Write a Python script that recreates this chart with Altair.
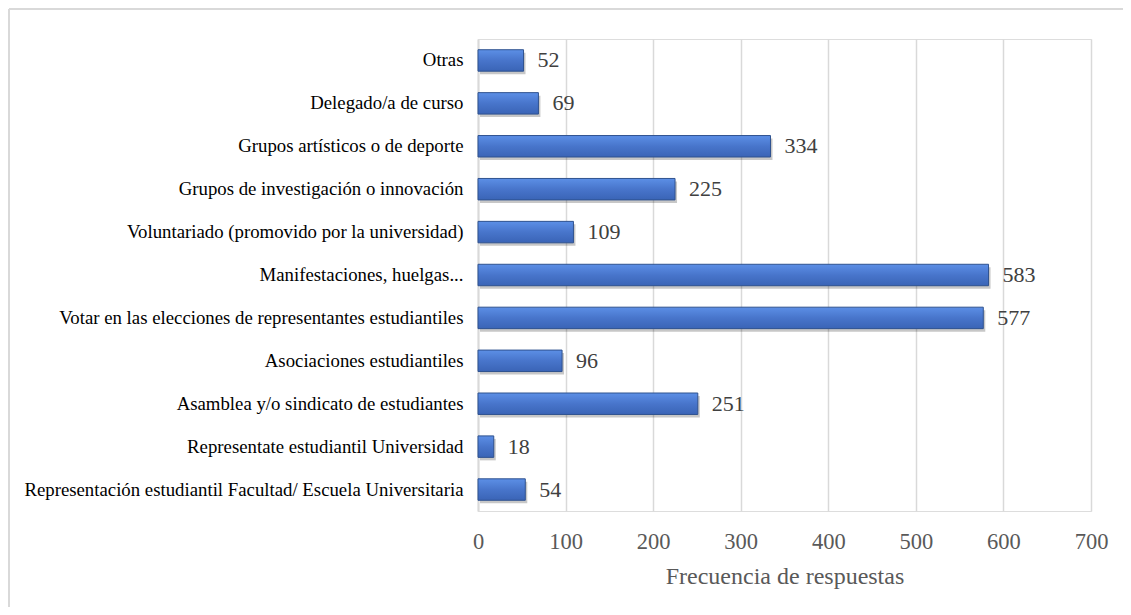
import altair as alt
import pandas as pd

categories = [
    "Otras ",
    "Delegado/a de curso",
    "Grupos artísticos o de deporte",
    "Grupos de investigación o innovación",
    "Voluntariado (promovido por la universidad)",
    "Manifestaciones, huelgas...",
    "Votar en las elecciones de representantes estudiantiles",
    "Asociaciones estudiantiles",
    "Asamblea y/o sindicato de estudiantes",
    "Representate estudiantil  Universidad",
    "Representación estudiantil Facultad/ Escuela Universitaria",
]
values = [52, 69, 334, 225, 109, 583, 577, 96, 251, 18, 54]
x_ticks = [0, 100, 200, 300, 400, 500, 600, 700]

df = pd.DataFrame({"cat": categories, "val": values})

FONT = "Liberation Serif"
W, H = 613, 472
PL, PT = 470, 31
PR = 1115 - PL - W
PB = 599 - PT - H

y_enc = alt.Y("cat:N", sort=categories, title=None,
              scale=alt.Scale(paddingInner=0.5, paddingOuter=0.25),
              axis=alt.Axis(labelFont=FONT, labelFontSize=18.8, labelColor="#000000",
                            labelPadding=15, ticks=False, domain=True,
                            domainColor="#D9D9D9", domainWidth=2, labelLimit=600))
x_enc = alt.X("val:Q", title="Frecuencia de respuestas",
              scale=alt.Scale(domain=[0, 700], nice=False),
              axis=alt.Axis(values=x_ticks, grid=True, gridColor="#D9D9D9", gridWidth=1.5,
                            domain=False, ticks=False, labelFont=FONT, labelFontSize=22.5,
                            labelColor="#595959", labelPadding=19, labelFlush=False,
                            labelOverlap=False, titleFont=FONT,
                            titleFontSize=24, titleFontWeight="normal", titleColor="#595959",
                            titlePadding=12))

base = alt.Chart(df)

shadow = base.mark_bar(color="#000000", opacity=0.22, xOffset=2, x2Offset=2,
                       yOffset=3, y2Offset=3).encode(y=y_enc, x=x_enc)

grad = alt.Gradient(
    gradient="linear", x1=0, y1=0, x2=0, y2=1,
    stops=[alt.GradientStop(offset=0, color="#5C8FE6"),
           alt.GradientStop(offset=0.5, color="#4875CB"),
           alt.GradientStop(offset=1, color="#3A64B6")])

bars = base.mark_bar(color=grad, stroke="#2F528F", strokeWidth=1).encode(y=y_enc, x=x_enc)

labels = base.mark_text(align="left", baseline="middle", dx=14, font=FONT,
                        fontSize=22, color="#404040").encode(
    y=y_enc, x=x_enc, text=alt.Text("val:Q"))

frame_df = pd.DataFrame({"k": [0]})
frame_left = alt.Chart(frame_df).mark_rule(color="#D9D9D9", strokeWidth=2).encode(
    x=alt.value(-PL + 1), y=alt.value(-PT + 1), y2=alt.value(H + PB))
frame_top = alt.Chart(frame_df).mark_rule(color="#D9D9D9", strokeWidth=2).encode(
    x=alt.value(-PL + 1), x2=alt.value(W + PR), y=alt.value(-PT + 1))

chart = alt.layer(frame_left, frame_top, shadow, bars, labels).properties(
    width=W, height=H,
    autosize=alt.AutoSizeParams(type="none"),
    padding={"left": PL, "top": PT, "right": PR, "bottom": PB},
).configure_view(stroke=None).configure(background="#FFFFFF")

chart.save("out.html", embed_options={"renderer": "svg", "actions": False})
